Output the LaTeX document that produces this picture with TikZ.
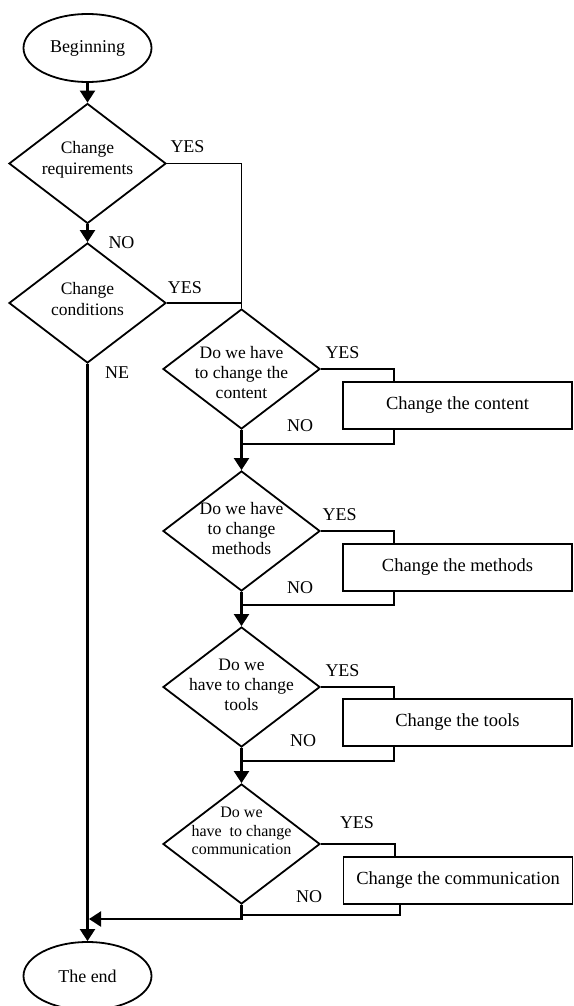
\documentclass[tikz,border=0pt]{standalone}
\usepackage{fontspec}
\setmainfont{Liberation Serif}
\usetikzlibrary{shapes.geometric,arrows.meta,calc}
\begin{document}
\begin{tikzpicture}[x=1pt,y=-1pt,
  every node/.style={font=\fontsize{18}{20}\selectfont},
  term/.style={ellipse,draw,line width=1.8pt,minimum width=128pt,minimum height=68pt,inner sep=0pt},
  dec/.style={diamond,draw,line width=1.8pt,minimum width=157pt,minimum height=120pt,inner sep=0pt},
  dtext/.style={align=center,inner sep=0pt,font=\fontsize{17.5}{21.5}\selectfont},
  dtextb/.style={align=center,inner sep=0pt,font=\fontsize{17.5}{20}\selectfont},
  dtextc/.style={align=center,inner sep=0pt,font=\fontsize{16}{18.5}\selectfont},
  act/.style={rectangle,draw,line width=1.8pt,minimum width=229pt,minimum height=47pt,inner sep=0pt,font=\fontsize{18.5}{20}\selectfont},
  lbl/.style={inner sep=0pt},
  conn/.style={line width=1.8pt},
  flow/.style={line width=2.2pt,-{Triangle[length=12pt,width=15pt]}},
]
\useasboundingbox (0,0) rectangle (573,1006);
\clip (0,0) rectangle (573,1006);

% terminals
\node[term] (begin) at (87.5,48) {Beginning};
\node[term] (end) at (87.5,976) {The end};

% decisions
\node[dec] (d1) at (87.5,163.5) {};
\node[dtext] (t1) at (87.5,160) {Change\\requirements};
\node[dec] (d2) at (87.5,303) {};
\node[dtext] (t2) at (87.5,299) {Change\\conditions};
\node[dec] (d3) at (241.5,369) {};
\node[dtextb] (t3) at (241.5,373) {Do we have\\to change the\\content};
\node[dec] (d4) at (241.5,531) {};
\node[dtextb] (t4) at (241.5,529) {Do we have\\to change\\methods};
\node[dec] (d5) at (241.5,687) {};
\node[dtextb] (t5) at (241.5,685) {Do we\\have to change\\tools};
\node[dec] (d6) at (241.5,844) {};
\node[dtextc] (t6) at (241.5,831) {Do we\\have\ \ to change\\communication};

% actions
\node[act] (c1) at (457.5,405.5) {Change the content};
\node[act] (c2) at (457.5,567.5) {Change the methods};
\node[act] (c3) at (457.5,722.5) {Change the tools};
\node[act] (c4) at (458,880.5) {Change the communication};

% connectors
\draw[flow] (begin) -- (d1);
\draw[flow] (d1) -- (d2);
\draw[conn] (d1.east) -| (d3.north);
\draw[conn] (d2.east) -- (d2.east -| d3.north);
\draw[flow] (d2.south) -- (end.north);

\draw[conn] (d3.east) -| ([xshift=52pt]c1.north west);
\draw[conn] ([xshift=52pt]c1.south west) |- ($(d3.south)+(0,14)$);
\draw[flow] (d3) -- (d4);

\draw[conn] (d4.east) -| ([xshift=52pt]c2.north west);
\draw[conn] ([xshift=52pt]c2.south west) |- ($(d4.south)+(0,13)$);
\draw[flow] (d4) -- (d5);

\draw[conn] (d5.east) -| ([xshift=52pt]c3.north west);
\draw[conn] ([xshift=52pt]c3.south west) |- ($(d5.south)+(0,13)$);
\draw[flow] (d5) -- (d6);

\draw[conn] (d6.east) -| ([xshift=52pt]c4.north west);
\draw[conn] ([xshift=57pt]c4.south west) |- ($(d6.south)+(0,10)$);
\coordinate (j) at (89,919);
\draw[flow] (d6.south) |- (j);

% labels
\node[lbl] (y1) at (187.5,147) {YES};
\node[lbl] (n1) at (121.5,243) {NO};
\node[lbl] (y2) at (185,288) {YES};
\node[lbl] (ne) at (117,373) {NE};
\node[lbl] (y3) at (342.5,353) {YES};
\node[lbl] (n3) at (300,426) {NO};
\node[lbl] (y4) at (339.7,515) {YES};
\node[lbl] (n4) at (300,588) {NO};
\node[lbl] (y5) at (342.5,671) {YES};
\node[lbl] (n5) at (303,741) {NO};
\node[lbl] (y6) at (357,823) {YES};
\node[lbl] (n6) at (309,897) {NO};
\end{tikzpicture}
\end{document}
